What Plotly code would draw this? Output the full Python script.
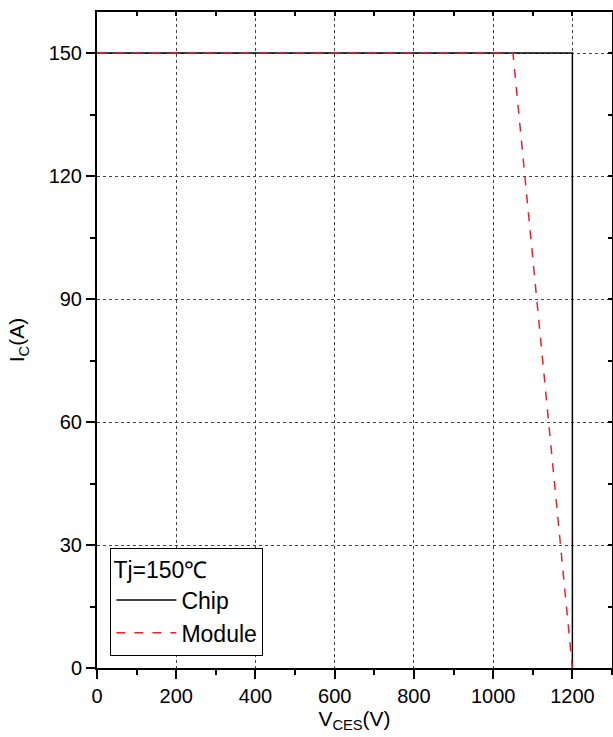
import plotly.graph_objects as go

# Data
chip_v = [0, 1200, 1200]
chip_i = [150, 150, 0]
module_v = [0, 1050, 1200]
module_i = [150, 150, 0]

x_ticks = [0, 200, 400, 600, 800, 1000, 1200]
y_ticks = [0, 30, 60, 90, 120, 150]

FONT = "Liberation Sans, Arial, sans-serif"

fig = go.Figure()
fig.add_trace(go.Scatter(x=chip_v, y=chip_i, mode="lines", name="Chip",
                         line=dict(color="black", width=1.5)))
fig.add_trace(go.Scatter(x=module_v, y=module_i, mode="lines", name="Module",
                         line=dict(color="#e8202a", width=1.5, dash="dash")))
# invisible trace to activate mirrored axes
fig.add_trace(go.Scatter(x=[0], y=[0], xaxis="x2", yaxis="y2", mode="markers",
                         marker=dict(opacity=0), showlegend=False, hoverinfo="skip"))

common = dict(showline=True, linecolor="black", linewidth=2,
              showgrid=True, gridcolor="#444444", gridwidth=1, griddash="dot",
              zeroline=False, ticks="outside", ticklen=9, tickwidth=2, tickcolor="black",
              tickfont=dict(family=FONT, size=20, color="black"))

fig.update_layout(
    width=613, height=737,
    margin=dict(l=97, r=1, t=12, b=69),
    plot_bgcolor="white", paper_bgcolor="white",
    font=dict(family=FONT, color="black"),
    xaxis=dict(range=[0, 1300], tickvals=x_ticks, **common,
               minor=dict(dtick=100, ticks="outside", ticklen=5, tickwidth=2, tickcolor="black", showgrid=False),
               title=dict(text="V<sub>CES</sub>(V)", font=dict(family=FONT, size=21), standoff=2)),
    yaxis=dict(range=[0, 160], tickvals=y_ticks, **common,
               minor=dict(dtick=15, ticks="outside", ticklen=5, tickwidth=2, tickcolor="black", showgrid=False),
               title=dict(text="I<sub>C</sub>(A)", font=dict(family=FONT, size=21), standoff=18)),
    xaxis2=dict(range=[0, 1300], overlaying="x", side="top", showline=True, linecolor="black",
                linewidth=2, showgrid=False, zeroline=False, showticklabels=False,
                ticks="inside", ticklen=4, tickwidth=1.5, tickcolor="black", dtick=100, tick0=0),
    yaxis2=dict(range=[0, 160], overlaying="y", side="right", anchor="x", showline=True, linecolor="black",
                linewidth=2, showgrid=False, zeroline=False, showticklabels=False,
                ticks="inside", ticklen=4, tickwidth=1.5, tickcolor="black", dtick=15, tick0=0),
    legend=dict(x=0.026, y=0.019, xanchor="left", yanchor="bottom",
                bgcolor="white", bordercolor="black", borderwidth=1,
                font=dict(family=FONT, size=23, color="black"),
                title=dict(text="Tj=150℃", font=dict(family=FONT, size=23)),
                tracegroupgap=0, itemwidth=60),
    showlegend=True,
)

fig.write_html("out.html")
